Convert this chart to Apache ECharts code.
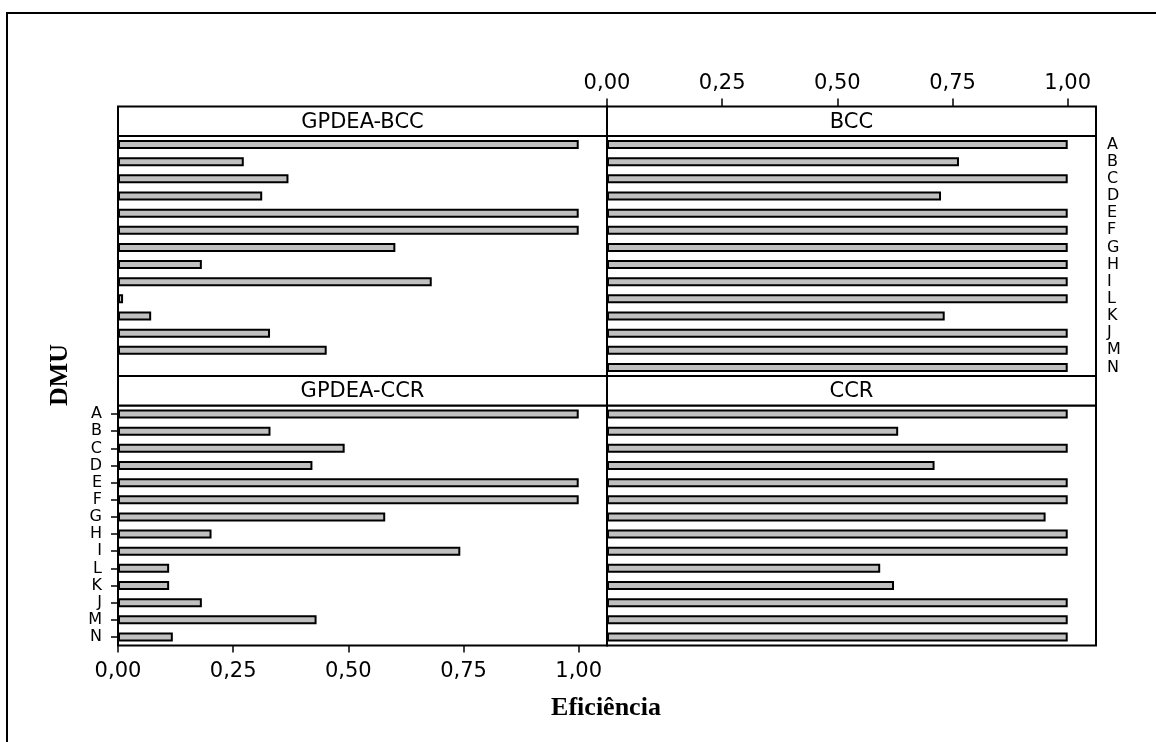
<!DOCTYPE html>
<html>
<head>
<meta charset="utf-8">
<script src="https://cdn.jsdelivr.net/npm/echarts@6/dist/echarts.min.js"></script>
<style>
html,body{margin:0;padding:0;background:#fff;}
#chart{width:1156px;height:742px;}
</style>
</head>
<body>
<div id="chart"></div>
<script>
const categories = ['A','B','C','D','E','F','G','H','I','L','K','J','M','N'];
const panelTitles = ['GPDEA-BCC','BCC','GPDEA-CCR','CCR'];
const gpdeaBcc = [1.00,0.273,0.370,0.313,1.00,1.00,0.602,0.182,0.681,0.011,0.072,0.330,0.453,0];
const bcc      = [1.00,0.764,1.00,0.725,1.00,1.00,1.00,1.00,1.00,1.00,0.733,1.00,1.00,1.00];
const gpdeaCcr = [1.00,0.331,0.492,0.422,1.00,1.00,0.580,0.203,0.743,0.111,0.111,0.182,0.431,0.119];
const ccr      = [1.00,0.632,1.00,0.711,1.00,1.00,0.952,1.00,1.00,0.593,0.623,1.00,1.00,1.00];
const tickValues = [0,0.25,0.5,0.75,1];
const xAxisTitle = 'Eficiência';
const yAxisTitle = 'DMU';

const chart = echarts.init(document.getElementById('chart'), null, {renderer:'canvas'});

const L1 = 118, L2 = 607, W = 489;
const T1 = 136, H1 = 240, T2 = 405.5, H2 = 240;
const stripH = 29.5;
const XMAX = 1.0614;
const fmt = v => v.toFixed(2).replace('.', ',');
const tickFont = {fontFamily:'DejaVu Sans', fontSize:21, color:'#000'};
const catFont = {fontFamily:'DejaVu Sans', fontSize:16, color:'#000'};

const grids = [
  {left:L1, top:T1, width:W, height:H1},
  {left:L2, top:T1, width:W, height:H1},
  {left:L1, top:T2, width:W, height:H2},
  {left:L2, top:T2, width:W, height:H2}
].map(g => Object.assign(g, {show:true, borderColor:'#000', borderWidth:2, backgroundColor:'#fff', containLabel:false}));

function xAx(i, showTop, showBottom){
  const base = {
    gridIndex:i, type:'value', min:0, max:XMAX, interval:0.25,
    splitLine:{show:false}, axisLine:{show:false}
  };
  if (showTop) {
    return Object.assign(base, {
      position:'top', offset:stripH,
      axisTick:{show:true, length:8, inside:false, lineStyle:{color:'#000', width:1.5}, customValues:tickValues},
      axisLabel:{show:true, margin:12, formatter:fmt, customValues:tickValues, ...tickFont}
    });
  }
  if (showBottom) {
    return Object.assign(base, {
      position:'bottom',
      axisTick:{show:true, length:7, lineStyle:{color:'#000', width:1.5}, customValues:tickValues},
      axisLabel:{show:true, margin:16, formatter:fmt, customValues:tickValues, ...tickFont}
    });
  }
  return Object.assign(base, {axisTick:{show:false}, axisLabel:{show:false}});
}

function yAx(i, side){
  const base = {
    gridIndex:i, type:'category', data:categories, inverse:true,
    axisLine:{show:false}, splitLine:{show:false}
  };
  if (side) {
    return Object.assign(base, {
      position:side,
      axisTick:{show:true, alignWithLabel:true, length:7, lineStyle:{color:'#000', width:1.5}},
      axisLabel:{show:true, margin:side === 'left' ? 16 : 11, interval:0, ...catFont}
    });
  }
  return Object.assign(base, {axisTick:{show:false}, axisLabel:{show:false}});
}

const datasets = [gpdeaBcc, bcc, gpdeaCcr, ccr];
const series = datasets.map((d, i) => ({
  type:'bar', xAxisIndex:i, yAxisIndex:i, data:d, barWidth:9,
  itemStyle:{color:'#c0c0c0', borderColor:'#000', borderWidth:2},
  silent:true, animation:false
}));

const strips = [
  [L1, T1 - stripH], [L2, T1 - stripH], [L1, T2 - stripH], [L2, T2 - stripH]
];
const graphic = [
  {type:'rect', shape:{x:7, y:13, width:1200, height:800}, style:{fill:'none', stroke:'#000', lineWidth:2}, z:-10}
];
strips.forEach((s, i) => {
  graphic.push({type:'rect', shape:{x:s[0], y:s[1], width:W, height:stripH}, style:{fill:'#fff', stroke:'#000', lineWidth:2}, z:10});
  graphic.push({type:'text', x:s[0] + W/2, y:s[1] + stripH/2 + 1, style:{text:panelTitles[i], font:'21px "DejaVu Sans"', fill:'#000', align:'center', verticalAlign:'middle'}, z:11});
});
graphic.push({type:'text', x:606, y:708, style:{text:xAxisTitle, font:'bold 26px "Liberation Serif"', fill:'#000', align:'center', verticalAlign:'middle'}});
graphic.push({type:'text', x:60, y:375, rotation:Math.PI/2, style:{text:yAxisTitle, font:'bold 26px "Liberation Serif"', fill:'#000', align:'center', verticalAlign:'middle'}});

chart.setOption({
  animation:false,
  backgroundColor:'#fff',
  grid:grids,
  xAxis:[xAx(0,false,false), xAx(1,true,false), xAx(2,false,true), xAx(3,false,false)],
  yAxis:[yAx(0,null), yAx(1,'right'), yAx(2,'left'), yAx(3,null)],
  series:series,
  graphic:graphic
});
</script>
</body>
</html>
